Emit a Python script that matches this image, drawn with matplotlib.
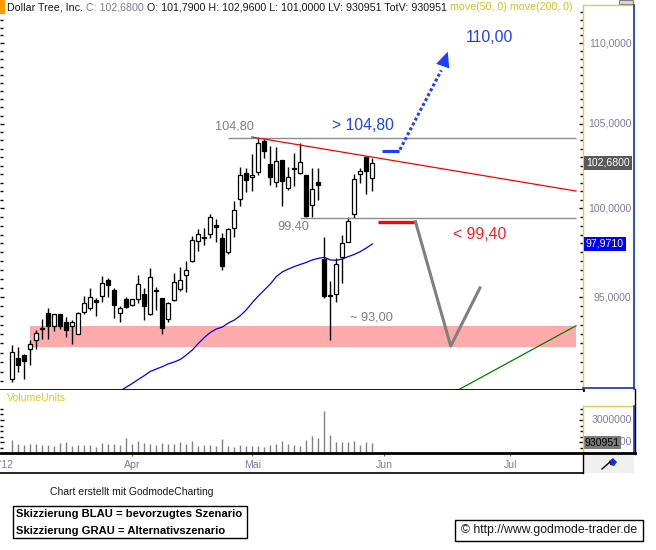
"""Dollar Tree daily candles with scenario sketch (GodmodeCharting look).

Output: out.png (656x550)
"""

import matplotlib
matplotlib.use("Agg")
import matplotlib.pyplot as plt
from matplotlib.lines import Line2D
from matplotlib.patches import Rectangle, Polygon
from matplotlib.ticker import FixedLocator, NullFormatter
import numpy as np

plt.rcParams["font.family"] = ["Liberation Sans", "DejaVu Sans"]

# --- daily OHLC, index 0 = first candle (early March 2012) ---
opens = [90.61, 91.71, 91.88, 92.19, 92.67, 93.26, 94.13, 93.46, 94.08, 93.65,
         93.42, 93.02, 94.18, 94.42, 94.85, 95.05, 95.93, 95.40, 94.16, 94.91,
         94.56, 94.91, 95.18, 94.08, 95.40, 94.94, 93.80, 94.83, 95.47, 96.22,
         96.99, 98.12, 98.32, 98.52, 99.04, 98.31, 97.50, 98.86, 100.53, 102.04,
         101.85, 102.13, 103.99, 102.60, 101.54, 102.83, 101.20, 102.39, 102.04, 101.94,
         100.18, 101.54, 97.14, 95.05, 95.16, 97.22, 98.08, 99.66, 102.00, 103.03,
         101.79]
highs = [92.40, 92.31, 91.92, 92.69, 93.22, 93.81, 94.42, 94.10, 94.10, 93.94,
         93.76, 94.18, 95.05, 95.51, 94.96, 96.17, 96.04, 95.49, 94.53, 95.03,
         94.93, 96.25, 95.49, 96.60, 95.55, 94.96, 94.76, 96.34, 96.66, 97.01,
         98.42, 98.82, 98.89, 99.66, 99.39, 98.57, 98.88, 100.41, 102.43, 102.37,
         103.17, 104.13, 104.09, 103.68, 103.62, 102.85, 102.43, 103.23, 103.83, 101.96,
         102.34, 102.34, 98.38, 95.90, 97.20, 98.50, 99.49, 102.00, 102.34, 103.07,
         102.96]
lows = [90.48, 90.99, 90.62, 91.36, 92.19, 92.76, 92.76, 93.18, 93.27, 92.84,
        92.49, 93.00, 94.09, 94.31, 93.99, 94.76, 95.03, 93.88, 93.67, 94.43,
        94.54, 94.67, 93.78, 94.06, 94.31, 93.02, 93.67, 94.81, 95.34, 95.27,
        96.97, 97.59, 97.91, 98.32, 98.10, 96.49, 97.39, 98.38, 100.14, 100.97,
        101.03, 101.94, 102.93, 101.36, 101.22, 100.16, 101.07, 101.30, 102.02, 99.52,
        99.52, 100.49, 94.98, 92.67, 94.76, 95.77, 98.06, 99.43, 101.46, 100.84,
        101.00]
closes = [92.03, 91.38, 91.58, 92.49, 93.04, 93.31, 93.46, 94.08, 93.46, 93.24,
          93.63, 94.13, 94.67, 95.00, 94.72, 95.77, 95.66, 94.59, 94.42, 94.49,
          94.89, 95.71, 94.54, 96.10, 95.33, 93.35, 94.67, 95.84, 95.95, 96.49,
          98.17, 98.53, 98.36, 99.50, 98.91, 96.75, 98.80, 99.89, 101.93, 101.65,
          101.97, 103.83, 103.39, 101.85, 102.79, 101.61, 101.81, 102.28, 102.71, 99.58,
          101.11, 101.34, 95.08, 95.12, 96.85, 98.04, 99.27, 101.71, 102.18, 102.19,
          102.68]
volumes = [1.20, 0.81, 0.75, 0.81, 0.81, 0.75, 0.72, 0.66, 0.93, 1.02,
           0.66, 0.72, 0.75, 0.75, 0.57, 0.90, 0.81, 0.81, 0.75, 1.38,
           0.84, 1.11, 0.93, 0.81, 0.75, 0.90, 0.84, 0.84, 1.02, 0.84,
           1.11, 0.66, 0.75, 0.75, 0.66, 1.29, 0.66, 0.57, 0.72, 0.69,
           0.66, 0.66, 0.57, 0.75, 0.84, 1.11, 0.81, 0.75, 0.66, 1.20,
           1.56, 1.38, 3.81, 1.65, 1.05, 0.99, 0.99, 1.14, 0.75, 0.99,
           0.930951]  # million shares

# 50-day moving average, from candle 18 on
ma50_start = 18
ma50 = [90.0, 90.2, 90.39, 90.60, 90.80, 91.02, 91.15, 91.27, 91.42, 91.52,
        91.65, 91.89, 92.15, 92.50, 92.82, 93.09, 93.28, 93.38, 93.60, 93.76,
        94.0, 94.31, 94.71, 95.07, 95.40, 95.73, 96.14, 96.40, 96.56, 96.70,
        96.82, 96.93, 97.07, 97.16, 97.22, 97.07, 97.05, 97.12, 97.26, 97.38,
        97.54, 97.74, 97.97]

month_labels = ["Apr", "Mai", "Jun", "Jul"]
month_pos = [20, 40, 62, 83]

# drawn levels / lines (index, price)
resist_level = 104.13
support_level = 99.43
zone_low, zone_high = 92.32, 93.43
trend_x, trend_y = [39.9, 93.95], [104.21, 101.01]
green_x, green_y = [74.0, 93.95], [90.0, 93.45]
blue_bar_x, blue_bar_y = [61.57, 64.45], [103.37, 103.37]
blue_dot_x, blue_dot_y = [64.6, 71.5], [103.45, 108.3]
arrow_tip = (72.57, 109.47)
red_bar_x, red_bar_y = [61.0, 67.2], [99.24, 99.24]
gray_path_x, gray_path_y = [67.2, 73.07, 77.95], [99.24, 92.36, 95.52]

W, H = 656, 550
BLUE = "#1f3fff"
RED = "#ff1f1f"
GRAY_TXT = "#7f7f7f"
AXIS_TXT = "#857a99"
YELLOW_LINE = "#e8c850"
FRAME_BLUE = "#1030c0"


def fig_line(fig, x0, y0, x1, y1, **kw):
    fig.add_artist(Line2D([x0 / W, x1 / W], [1 - y0 / H, 1 - y1 / H],
                          transform=fig.transFigure, **kw))


def fig_rect(fig, x0, y0, x1, y1, **kw):
    fig.add_artist(Rectangle((x0 / W, 1 - y1 / H), (x1 - x0) / W, (y1 - y0) / H,
                             transform=fig.transFigure, **kw))


fig = plt.figure(figsize=(W / 100, H / 100), dpi=100)
fig.patch.set_facecolor("white")

ax = fig.add_axes([0, 1 - 389.7 / H, 583 / W, (389.7 - 4.7) / H])
axv = fig.add_axes([0, 1 - 453.3 / H, 583 / W, (453.3 - 389.7) / H])

idx = np.arange(len(closes))
o = np.array(opens)
c = np.array(closes)

# --- price panel ---
ax.set_yscale("log")
ax.set_xlim(-2.05, 95.12)
ax.set_ylim(90.065, 112.48)

ax.axhspan(zone_low, zone_high, xmin=(2.95 + 2.05) / 97.17, xmax=(93.95 + 2.05) / 97.17,
           color="#ffaaaa", lw=0, zorder=1)
ax.plot(np.arange(ma50_start, ma50_start + len(ma50)), ma50, color="#0000ff", lw=0.9, zorder=2)
ax.plot(green_x, green_y, color="#008000", lw=0.9, zorder=2)

ax.vlines(idx, lows, highs, color="black", lw=1, zorder=3)
up = c >= o
ax.bar(idx, np.abs(c - o), bottom=np.minimum(o, c), width=0.72,
       color=np.where(up, "white", "black"), edgecolor="black", linewidth=0.9, zorder=4)

ax.hlines(resist_level, 36.0, 93.95, color="#8c8c8c", lw=1, zorder=5)
ax.hlines(support_level, 47.95, 93.95, color="#8c8c8c", lw=1, zorder=5)
ax.plot(trend_x, trend_y, color="#ff0000", lw=0.9, zorder=5)

# scenario sketch
ax.plot(blue_bar_x, blue_bar_y, color=BLUE, lw=2.2, solid_capstyle="butt", zorder=6)
ax.plot(blue_dot_x, blue_dot_y, color=BLUE, lw=2.2, ls=(0, (1, 0.8)),
        dash_capstyle="butt", zorder=6)
ax.annotate("", xy=arrow_tip, xytext=(blue_dot_x[1], blue_dot_y[1]),
            arrowprops=dict(arrowstyle="-|>,head_length=1.1,head_width=0.5",
                            color=BLUE, lw=0, mutation_scale=10, shrinkA=0, shrinkB=0),
            zorder=6)
ax.plot(red_bar_x, red_bar_y, color="#ff0000", lw=2.4, solid_capstyle="butt", zorder=6)
ax.plot(gray_path_x, gray_path_y, color="#808080", lw=2.2, zorder=6)

ax.text(79.6, 110.38, "110,00", color=BLUE, fontsize=11.3, ha="center", va="center")
ax.text(58.37, 104.89, "> 104,80", color=BLUE, fontsize=11.3, ha="center", va="center")
ax.text(77.95, 98.48, "< 99,40", color=RED, fontsize=11.3, ha="center", va="center")
ax.text(37.03, 104.83, "104,80", color=GRAY_TXT, fontsize=9.2, ha="center", va="center")
ax.text(46.92, 98.95, "99,40", color=GRAY_TXT, fontsize=9.2, ha="center", va="center")
ax.text(59.9, 93.91, "~ 93,00", color=GRAY_TXT, fontsize=9.2, ha="center", va="center")

ax.yaxis.set_major_locator(FixedLocator([95, 100, 105, 110]))
ax.yaxis.set_minor_locator(FixedLocator(np.arange(90.5, 112.5, 0.5)))
ax.yaxis.set_major_formatter(NullFormatter())
ax.yaxis.set_minor_formatter(NullFormatter())
ax.tick_params(axis="y", which="both", direction="in", left=True, right=True,
               labelleft=False, labelright=False, width=1, color="black")
ax.tick_params(axis="y", which="major", length=3.2)
ax.tick_params(axis="y", which="minor", length=2)
ax.set_xticks([])
for s in ("left", "top"):
    ax.spines[s].set_visible(False)
ax.spines["right"].set_color(YELLOW_LINE)
ax.spines["right"].set_linewidth(1)
ax.spines["bottom"].set_linewidth(2)

ytr = ax.get_yaxis_transform()
for v in [95, 100, 105, 110]:
    ax.text(631.5 / 583, v, f"{v},0000", transform=ytr, ha="right", va="center",
            fontsize=7.6, color=AXIS_TXT)
ax.text(608 / 583, closes[-1], "102,6800", transform=ytr, ha="center", va="center",
        fontsize=7.6, color="white",
        bbox=dict(boxstyle="square,pad=0.18", fc="#5a5a5a", ec="none"))
ax.text(605 / 583, ma50[-1], "97,9710", transform=ytr, ha="center", va="center",
        fontsize=7.6, color="white",
        bbox=dict(boxstyle="square,pad=0.18", fc="#0000ff", ec="none"))

# --- volume panel ---
vol = np.array(volumes) * 1e6
axv.set_xlim(-2.05, 95.12)
axv.set_ylim(0, 5.72e6)
axv.vlines(idx, 0, vol, color="#808080", lw=1)
axv.yaxis.set_major_locator(FixedLocator([1e6, 3e6]))
axv.yaxis.set_minor_locator(FixedLocator(np.arange(0.5e6, 4.1e6, 0.5e6)))
axv.yaxis.set_major_formatter(NullFormatter())
axv.yaxis.set_minor_formatter(NullFormatter())
axv.tick_params(axis="y", which="both", direction="in", left=True, right=True,
                labelleft=False, labelright=False, width=1)
axv.tick_params(axis="y", which="major", length=3)
axv.tick_params(axis="y", which="minor", length=2.2)
axv.set_xticks(month_pos, month_labels)
axv.tick_params(axis="x", direction="out", length=2, pad=3, labelsize=7.6,
                labelcolor=AXIS_TXT, color="#606060")
axv.text(0.1, -0.11, "Mär '12", transform=axv.get_xaxis_transform(), ha="right",
         va="top", fontsize=7.6, color=AXIS_TXT)
for s in ("left", "top", "right"):
    axv.spines[s].set_visible(False)
axv.spines["bottom"].set_linewidth(2)
axv.text(7 / 583, 0.87, "VolumeUnits", transform=axv.transAxes, fontsize=7.6,
         color="#d6cc22", va="center")

vtr = axv.get_yaxis_transform()
axv.text(631.5 / 583, 3e6, "3000000", transform=vtr, ha="right", va="center",
         fontsize=7.6, color=AXIS_TXT)
axv.text(631.5 / 583, 1e6, "1000000", transform=vtr, ha="right", va="center",
         fontsize=7.6, color=AXIS_TXT, zorder=1)
axv.text(584.5 / 583, 0.95e6, "930951", transform=vtr, ha="left", va="center",
         fontsize=7.6, color="black", zorder=5,
         bbox=dict(boxstyle="square,pad=0.15", fc="#7a7a7a", ec="none"))

# --- window chrome ---
fig_line(fig, 583, 4.7, 633, 4.7, color=YELLOW_LINE, lw=1)
fig_line(fig, 633.5, 4.7, 633.5, 388.5, color=FRAME_BLUE, lw=1.2)
fig_line(fig, 583, 388.3, 633.5, 388.3, color=FRAME_BLUE, lw=1.2)
fig_line(fig, 583, 406, 633, 406, color=YELLOW_LINE, lw=1)
fig_line(fig, 583, 406, 583, 453, color=YELLOW_LINE, lw=1)
fig_line(fig, 633.5, 406, 633.5, 453, color=FRAME_BLUE, lw=1.2)
fig_line(fig, 634.5, 389, 634.5, 454, color="black", lw=1)
fig_line(fig, 583, 453.3, 634.5, 453.3, color="black", lw=2)
fig_rect(fig, 583, 454.3, 634, 473.3, fc="#f0f0f0", ec="none")
fig_line(fig, 0, 473.3, 583, 473.3, color="black", lw=1.2)
fig_line(fig, 582.5, 453.3, 582.5, 473.3, color="black", lw=1)
fig_rect(fig, 619, 0, 633, 4, fc="#d8d8d8", ec="#808080", lw=0.8)
# small pen icon
fig_line(fig, 602, 469, 610, 462, color="black", lw=1)
fig.add_artist(Polygon([(609 / W, 1 - 461 / H), (613 / W, 1 - 458 / H), (617 / W, 1 - 462 / H),
                        (614 / W, 1 - 466 / H), (610 / W, 1 - 465 / H)],
                       closed=True, transform=fig.transFigure, fc="#1030e0", ec="none"))

# --- header ---
fig_rect(fig, 0, 0, 5, 14, fc="#ff9900", ec="none")
t = fig.text(7 / W, 1 - 7.5 / H, "Dollar Tree, Inc.", fontsize=7.7, color="#1a1a1a", va="center")
pieces = [(" C: 102,6800", "#857a99"),
          (" O: 101,7900 H: 102,9600 L: 101,0000 LV: 930951 TotV: 930951", "#1a1a1a"),
          (" move(50, 0) move(200, 0)", "#d4c21a")]
for txt, col in pieces:
    t = ax.annotate(txt, xy=(1, 0.5), xycoords=t, va="center", ha="left",
                    fontsize=7.7, color=col)

# --- footer ---
fig.text(50 / W, 1 - 491.7 / H, "Chart erstellt mit GodmodeCharting", fontsize=7.5,
         color="#1a1a1a", va="center")
fig_rect(fig, 13.3, 506, 247.3, 538.3, fill=False, ec="black", lw=1)
fig.text(15.5 / W, 1 - 514 / H, "Skizzierung BLAU = bevorzugtes Szenario", fontsize=8.1,
         fontweight="bold", va="center")
fig.text(15.5 / W, 1 - 530.5 / H, "Skizzierung GRAU = Alternativszenario", fontsize=8.1,
         fontweight="bold", va="center")
fig_rect(fig, 455, 519.5, 643, 540.5, fill=False, ec="black", lw=1)
fig.text(461 / W, 1 - 530 / H, "© http://www.godmode-trader.de", fontsize=8.8,
         color="#1a1a1a", va="center")

fig.savefig("out.png", dpi=100)
plt.close(fig)
